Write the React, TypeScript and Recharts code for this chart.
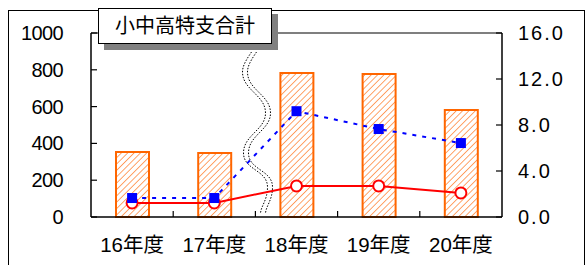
import { ComposedChart, Bar, Line, XAxis, YAxis, ReferenceLine, Customized } from "recharts";

const categories = ["16年度", "17年度", "18年度", "19年度", "20年度"];
const totals = [353, 348, 783, 777, 582];
const blueRates = [1.65, 1.65, 9.2, 7.65, 6.43];
const redRates = [1.22, 1.22, 2.7, 2.7, 2.09];
const leftTicks = [0, 200, 400, 600, 800, 1000];
const rightTicks = [0, 4, 8, 12, 16];
const title = "小中高特支合計";

const W = 586;
const H = 265;
const PLOT_L = 91;
const PLOT_R = 502;
const BAND = (PLOT_R - PLOT_L) / categories.length;
const FONT = "'Liberation Sans', Arial, 'Noto Sans CJK JP', sans-serif";

const data = categories.map((name, i) => ({
    name,
    total: totals[i],
    blue: blueRates[i],
    red: redRates[i],
}));

function LeftTick(props: any) {
    const { x, y, payload } = props;
    return (
        <g>
            <line x1={x} y1={y} x2={x + 6} y2={y} stroke="#000" strokeWidth={1.2} />
            <text x={x - 28} y={y} dy="0.35em" textAnchor="end" fontSize={20} fontFamily={FONT} fill="#000" letterSpacing={-0.6}>
                {payload.value}
            </text>
        </g>
    );
}

function RightTick(props: any) {
    const { x, y, payload } = props;
    return (
        <g>
            <line x1={x - 6} y1={y} x2={x} y2={y} stroke="#000" strokeWidth={1.2} />
            <text x={x + 16} y={y} dy="0.35em" textAnchor="start" fontSize={20} fontFamily={FONT} fill="#000" letterSpacing={2}>
                {Number(payload.value).toFixed(1)}
            </text>
        </g>
    );
}

function BottomTick(props: any) {
    const { x, y, payload, index } = props;
    return (
        <g>
            {index > 0 && (
                <line x1={x - BAND / 2} y1={y} x2={x - BAND / 2} y2={y - 6} stroke="#000" strokeWidth={1.2} />
            )}
            <text x={x} y={y + 28} dy="0.35em" textAnchor="middle" fontSize={20.5} fontFamily={FONT} fill="#000">
                {payload.value}
            </text>
        </g>
    );
}

// wavy "break" mark between 17 and 18
function BreakMark() {
    const d = "M254 52 C250 58 245 65 245 72 C245 90 268 95 268 113 C268 130 246 135 246 153 C246 170 270 170 270 187 C270 200 264 205 263 213";
    return (
        <g>
            <path d={d} transform="translate(-2.5,0)" fill="none" stroke="#000" strokeWidth={1} strokeDasharray="1.5 1.5" />
            <path d={d} transform="translate(2.5,0)" fill="none" stroke="#000" strokeWidth={1} strokeDasharray="1.5 1.5" />
        </g>
    );
}

function Square(props: any) {
    const { cx, cy } = props;
    return <rect x={cx - 5} y={cy - 5} width={10} height={10} fill="#0000FF" />;
}

export default function App() {
    return (
        <div style={{ position: "absolute", left: 0, top: 0, width: W, height: H, background: "#fff", overflow: "hidden" }}>
            <div style={{ position: "absolute", left: 8, top: 10, width: 575, height: 280, border: "1.5px solid #000" }} />
            <div style={{ position: "absolute", left: 0, top: 0 }}>
                <ComposedChart width={W} height={H} data={data} margin={{ top: 33, right: 0, bottom: 18, left: 0 }}>
                    <defs>
                        <pattern id="hatch" patternUnits="userSpaceOnUse" width="4.5" height="4.5" patternTransform="rotate(45)">
                            <rect width="4.5" height="4.5" fill="#fff" />
                            <line x1="0" y1="0" x2="0" y2="4.5" stroke="#FF9450" strokeWidth={1.7} />
                        </pattern>
                    </defs>
                    <XAxis dataKey="name" height={30} axisLine={{ stroke: "#000", strokeWidth: 1.5 }} tickLine={false} tickSize={0} tickMargin={0} tick={<BottomTick />} interval={0} />
                    <YAxis yAxisId="left" orientation="left" width={91} domain={[0, 1000]} ticks={leftTicks} axisLine={{ stroke: "#000", strokeWidth: 1.5 }} tickLine={false} tickSize={0} tickMargin={0} tick={<LeftTick />} />
                    <YAxis yAxisId="right" orientation="right" width={84} domain={[0, 16]} ticks={rightTicks} axisLine={{ stroke: "#000", strokeWidth: 1.5 }} tickLine={false} tickSize={0} tickMargin={0} tick={<RightTick />} />
                    <ReferenceLine yAxisId="left" y={1000} stroke="#000" strokeWidth={1.2} />
                    <Bar yAxisId="left" dataKey="total" barSize={33} fill="url(#hatch)" stroke="#FF6600" strokeWidth={2} isAnimationActive={false} />
                    <Line yAxisId="right" dataKey="red" stroke="#FF0000" strokeWidth={2} dot={{ r: 5.5, fill: "#fff", stroke: "#FF0000", strokeWidth: 2 }} activeDot={false} isAnimationActive={false} />
                    <Line yAxisId="right" dataKey="blue" stroke="#0000FF" strokeWidth={2} strokeDasharray="4 6" dot={<Square />} activeDot={false} isAnimationActive={false} />
                    <Customized component={BreakMark} />
                </ComposedChart>
            </div>
            <div style={{ position: "absolute", left: 104, top: 14, width: 174, height: 36, background: "#808080" }} />
            <div
                style={{
                    position: "absolute",
                    left: 98,
                    top: 8,
                    width: 172,
                    height: 34,
                    background: "#fff",
                    border: "1.5px solid #000",
                    fontFamily: FONT,
                    fontSize: 20,
                    lineHeight: "34px",
                    textAlign: "center",
                    color: "#000",
                }}
            >
                {title}
            </div>
        </div>
    );
}
